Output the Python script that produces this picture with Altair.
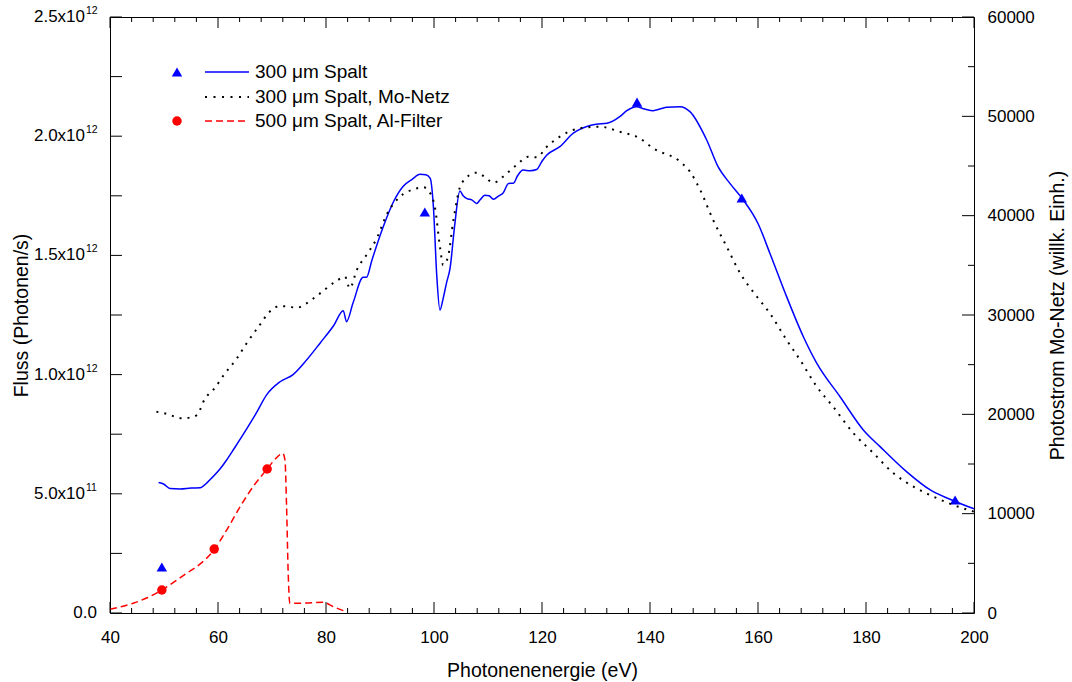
import altair as alt
import pandas as pd

# ---------------- data ----------------
# 300 um slit: photon energy (eV) and flux (10^12 photons/s)
BLUE_E = [49.0, 50.0, 51.1, 53.0, 55.0, 56.7, 57.9, 59.0, 60.4, 61.6, 63.0, 64.7, 67.0, 69.0,
          71.5, 73.9, 76.4, 79.0, 81.4, 83.2, 83.8, 85.0, 86.9, 87.5, 88.5, 90.6, 92.5, 94.3,
          96.0, 97.4, 98.5, 99.3, 99.9, 100.5, 101.1, 101.7, 102.3, 103.0, 103.8, 104.8, 105.4,
          106.1, 107.0, 107.9, 108.5, 109.4, 110.2, 111.0, 112.0, 112.8, 113.8, 114.7, 115.5,
          116.5, 117.8, 119.0, 120.0, 120.9, 123.3, 125.8, 128.3, 130.0, 132.0, 134.4, 135.7,
          137.5, 139.0, 140.6, 142.0, 143.1, 145.6, 147.4, 150.5, 152.6, 154.8, 157.3, 160.0,
          162.2, 165.3, 168.4, 170.9, 175.2, 179.5, 182.6, 187.5, 191.9, 196.2, 200.0]
BLUE_F = [0.547, 0.540, 0.522, 0.520, 0.524, 0.525, 0.545, 0.570, 0.605, 0.642, 0.690, 0.750,
          0.835, 0.915, 0.970, 1.000, 1.061, 1.135, 1.205, 1.268, 1.222, 1.300, 1.408, 1.408,
          1.480, 1.620, 1.725, 1.790, 1.820, 1.840, 1.838, 1.823, 1.700, 1.420, 1.271, 1.320,
          1.383, 1.450, 1.620, 1.770, 1.750, 1.738, 1.733, 1.718, 1.732, 1.752, 1.750, 1.736,
          1.750, 1.762, 1.802, 1.803, 1.835, 1.858, 1.855, 1.860, 1.895, 1.921, 1.956, 2.013,
          2.041, 2.050, 2.054, 2.082, 2.107, 2.124, 2.114, 2.107, 2.115, 2.121, 2.124, 2.103,
          1.984, 1.872, 1.802, 1.732, 1.634, 1.509, 1.327, 1.159, 1.047, 0.907, 0.768, 0.698,
          0.593, 0.516, 0.471, 0.437]

# 300 um slit, Mo mesh: photocurrent (arb. units, right axis)
MO_E = [48.6, 50.5, 53.3, 55.0, 56.1, 57.6, 59.1, 61.3, 63.5, 65.3, 67.5, 69.9, 71.5, 73.0,
        74.6, 76.1, 78.9, 82.0, 83.5, 84.4, 85.7, 87.5, 89.4, 91.2, 93.7, 96.2, 98.0, 99.3,
        100.2, 101.1, 101.7, 102.6, 103.6, 105.1, 107.9, 109.4, 111.0, 113.5, 115.3, 117.5,
        119.0, 120.9, 123.3, 127.0, 130.7, 134.4, 138.1, 140.6, 145.6, 147.4, 149.3, 151.7,
        154.2, 156.7, 159.8, 162.2, 165.3, 167.8, 170.9, 173.9, 177.7, 181.4, 185.1, 188.8,
        192.5, 196.2, 200.0]
MO_I = [20260, 20050, 19600, 19700, 19930, 21600, 22450, 24130, 25640, 27150, 28820, 30500,
        30900, 30850, 30730, 31080, 32180, 33450, 33860, 32690, 34530, 36040, 37720, 40070,
        41910, 42650, 42860, 42250, 40740, 36880, 35030, 35870, 39560, 43260, 44330, 43900,
        43320, 44270, 45100, 45940, 45870, 46940, 47950, 48800, 48960, 48450, 47790, 46780,
        45430, 44430, 42580, 39560, 36880, 34200, 31840, 30170, 27480, 25470, 22780, 20770,
        18090, 16080, 14060, 12720, 11710, 10870, 10200]

# 500 um slit, Al filter: flux (10^12 photons/s)
RED_E = [40.0, 44.3, 47.0, 49.6, 54.2, 56.7, 59.3, 61.6, 64.1, 66.5, 69.1, 70.9, 72.0, 72.4,
         72.7, 73.0, 73.3, 75.2, 77.5, 79.5, 81.4, 83.8]
RED_F = [0.0155, 0.041, 0.065, 0.0965, 0.167, 0.206, 0.266, 0.348, 0.446, 0.530, 0.604, 0.653,
         0.670, 0.642, 0.446, 0.167, 0.041, 0.041, 0.043, 0.045, 0.026, 0.005]

# single measured points
TRI_E = [49.6, 98.3, 137.6, 157.0, 196.5]
TRI_F = [0.193, 1.682, 2.143, 1.741, 0.474]
CIRC_E = [49.6, 59.3, 69.1]
CIRC_F = [0.0965, 0.268, 0.604]

# axes
X_MAJOR = [40, 60, 80, 100, 120, 140, 160, 180, 200]
X_MINOR = [v for v in range(40, 201, 4) if v % 20 != 0]
LEFT_TICKS = [0.0, 0.25, 0.5, 0.75, 1.0, 1.25, 1.5, 1.75, 2.0, 2.25, 2.5]
LEFT_LABEL_VALUES = [0.0, 0.5, 1.0, 1.5, 2.0, 2.5]
LEFT_LABEL_BASE = ["0.0", "5.0x10", "1.0x10", "1.5x10", "2.0x10", "2.5x10"]
LEFT_LABEL_SUP = ["", "11", "12", "12", "12", "12"]
RIGHT_MAJOR = [0, 10000, 20000, 30000, 40000, 50000, 60000]
RIGHT_MINOR = [5000, 15000, 25000, 35000, 45000, 55000]

LEGEND_LABELS = ["300 \u03bcm Spalt", "300 \u03bcm Spalt, Mo-Netz", "500 \u03bcm Spalt, Al-Filter"]

# ---------------- chart ----------------
W, H = 864, 596
FONT = "Liberation Sans"
BLUE, RED = "#0000ff", "#ff0000"
TRI_SIZE, CIRC_SIZE = 110, 90

blue_df = pd.DataFrame({"E": BLUE_E, "F": BLUE_F})
mo_df = pd.DataFrame({"E": MO_E, "I": MO_I})
red_df = pd.DataFrame({"E": RED_E, "F": RED_F})
tri_df = pd.DataFrame({"E": TRI_E, "F": TRI_F})
circ_df = pd.DataFrame({"E": CIRC_E, "F": CIRC_F})
lab_df = pd.DataFrame({"v": LEFT_LABEL_VALUES, "base": LEFT_LABEL_BASE, "sup": LEFT_LABEL_SUP})
one = pd.DataFrame({"a": [0]})

xs = alt.Scale(domain=[40, 200], nice=False, zero=False)
yls = alt.Scale(domain=[0, 2.5], nice=False, zero=False)
yrs = alt.Scale(domain=[0, 60000], nice=False, zero=False)

x_axis = alt.Axis(title="Photonenenergie (eV)", values=X_MAJOR, format="d", ticks=False,
                  tickSize=0, domain=False, grid=False, labelPadding=29,
                  labelBaseline="alphabetic", labelFlush=False, labelOverlap=False,
                  labelFontSize=17, titleFontSize=19.5, titleX=W / 2, titleY=63,
                  titleBaseline="alphabetic", titleAlign="center")
yl_axis = alt.Axis(title="Fluss (Photonen/s)", labels=False, ticks=False, tickSize=0,
                   domain=False, grid=False, titleFontSize=19.5, titleAngle=270,
                   titleX=-89, titleY=H / 2, titleAlign="center", titleBaseline="middle")
yr_axis = alt.Axis(title="Photostrom Mo-Netz (willk. Einh.)", orient="right",
                   values=RIGHT_MAJOR, format="d", ticks=False, tickSize=0, domain=False,
                   grid=False, labelPadding=13, labelFontSize=17, labelOverlap=False,
                   labelBaseline="middle", titleFontSize=19.5, titleAngle=270, titleX=83,
                   titleY=H / 2, titleAlign="center", titleBaseline="middle")


def X(field):
    return alt.X(field, scale=xs, axis=x_axis)


def YL(field):
    return alt.Y(field, scale=yls, axis=yl_axis)


def YR(field):
    return alt.Y(field, scale=yrs, axis=yr_axis)


blue_line = alt.Chart(blue_df).mark_line(color=BLUE, strokeWidth=1.5, interpolate="monotone").encode(
    x=X("E:Q"), y=YL("F:Q"))
red_line = alt.Chart(red_df).mark_line(color=RED, strokeWidth=1.5, strokeDash=[7, 4],
                                       interpolate="monotone").encode(x=X("E:Q"), y=YL("F:Q"))
tri_pts = alt.Chart(tri_df).mark_point(shape="triangle-up", filled=True, color=BLUE,
                                       size=TRI_SIZE, opacity=1).encode(x=X("E:Q"), y=YL("F:Q"))
circ_pts = alt.Chart(circ_df).mark_point(shape="circle", filled=True, color=RED,
                                         size=CIRC_SIZE, opacity=1).encode(x=X("E:Q"), y=YL("F:Q"))

# inward ticks
left_ticks = alt.Chart(pd.DataFrame({"v": LEFT_TICKS})).mark_rule(color="black", strokeWidth=1).encode(
    x=alt.value(0), x2=alt.value(12), y=YL("v:Q"))
xmaj_df = pd.DataFrame({"v": X_MAJOR})
xmin_df = pd.DataFrame({"v": X_MINOR})
xt = []
for df, length in ((xmaj_df, 11), (xmin_df, 5)):
    xt.append(alt.Chart(df).mark_rule(color="black", strokeWidth=1).encode(
        x=X("v:Q"), y=alt.value(H), y2=alt.value(H - length)))
    xt.append(alt.Chart(df).mark_rule(color="black", strokeWidth=1).encode(
        x=X("v:Q"), y=alt.value(0), y2=alt.value(length)))

# left tick labels with superscript exponents
base_exp = alt.Chart(lab_df).transform_filter("datum.sup != ''").mark_text(
    align="right", baseline="middle", fontSize=17, color="black").encode(
    x=alt.value(-25), y=YL("v:Q"), text="base:N")
base_zero = alt.Chart(lab_df).transform_filter("datum.sup == ''").mark_text(
    align="right", baseline="middle", fontSize=17, color="black").encode(
    x=alt.value(-13), y=YL("v:Q"), text="base:N")
sup_txt = alt.Chart(lab_df).transform_filter("datum.sup != ''").mark_text(
    align="left", baseline="middle", fontSize=10.5, dy=-6, color="black").encode(
    x=alt.value(-24), y=YL("v:Q"), text="sup:N")

# legend
ROW_Y = [55, 80, 104]
leg = [
    alt.Chart(one).mark_point(shape="triangle-up", filled=True, color=BLUE, size=TRI_SIZE,
                              opacity=1).encode(x=alt.value(67), y=alt.value(ROW_Y[0])),
    alt.Chart(one).mark_point(shape="circle", filled=True, color=RED, size=CIRC_SIZE,
                              opacity=1).encode(x=alt.value(67), y=alt.value(ROW_Y[2])),
    alt.Chart(one).mark_rule(color=BLUE, strokeWidth=1.5).encode(
        x=alt.value(95), x2=alt.value(139), y=alt.value(ROW_Y[0])),
    alt.Chart(one).mark_rule(color="black", strokeWidth=2, strokeDash=[2, 6.5]).encode(
        x=alt.value(95), x2=alt.value(139), y=alt.value(ROW_Y[1])),
    alt.Chart(one).mark_rule(color=RED, strokeWidth=1.5, strokeDash=[7, 4]).encode(
        x=alt.value(95), x2=alt.value(139), y=alt.value(ROW_Y[2])),
]
for label, ry in zip(LEGEND_LABELS, ROW_Y):
    leg.append(alt.Chart(pd.DataFrame({"t": [label]})).mark_text(
        align="left", baseline="middle", fontSize=19, color="black").encode(
        x=alt.value(145), y=alt.value(ry), text="t:N"))

left_group = alt.layer(blue_line, red_line, tri_pts, circ_pts, left_ticks, *xt,
                       base_exp, base_zero, sup_txt, *leg)

mo_line = alt.Chart(mo_df).mark_line(color="black", strokeWidth=2, strokeDash=[2, 6],
                                     interpolate="monotone").encode(x=X("E:Q"), y=YR("I:Q"))
r_maj = alt.Chart(pd.DataFrame({"v": RIGHT_MAJOR})).mark_rule(color="black", strokeWidth=1).encode(
    x=alt.value(W), x2=alt.value(W - 12), y=YR("v:Q"))
r_min = alt.Chart(pd.DataFrame({"v": RIGHT_MINOR})).mark_rule(color="black", strokeWidth=1).encode(
    x=alt.value(W), x2=alt.value(W - 6), y=YR("v:Q"))
right_group = alt.layer(mo_line, r_maj, r_min)

chart = alt.layer(left_group, right_group).resolve_scale(y="independent").properties(
    width=W, height=H,
    padding={"left": 110, "top": 17, "right": 98, "bottom": 69},
    autosize=alt.AutoSizeParams(type="none"),
    background="white",
).configure(font=FONT).configure_view(stroke="black", strokeWidth=1).configure_axis(
    labelFont=FONT, titleFont=FONT, labelColor="black", titleColor="black",
    titleFontWeight="normal")

chart.save("out.html", embed_options={"renderer": "svg", "actions": False})
